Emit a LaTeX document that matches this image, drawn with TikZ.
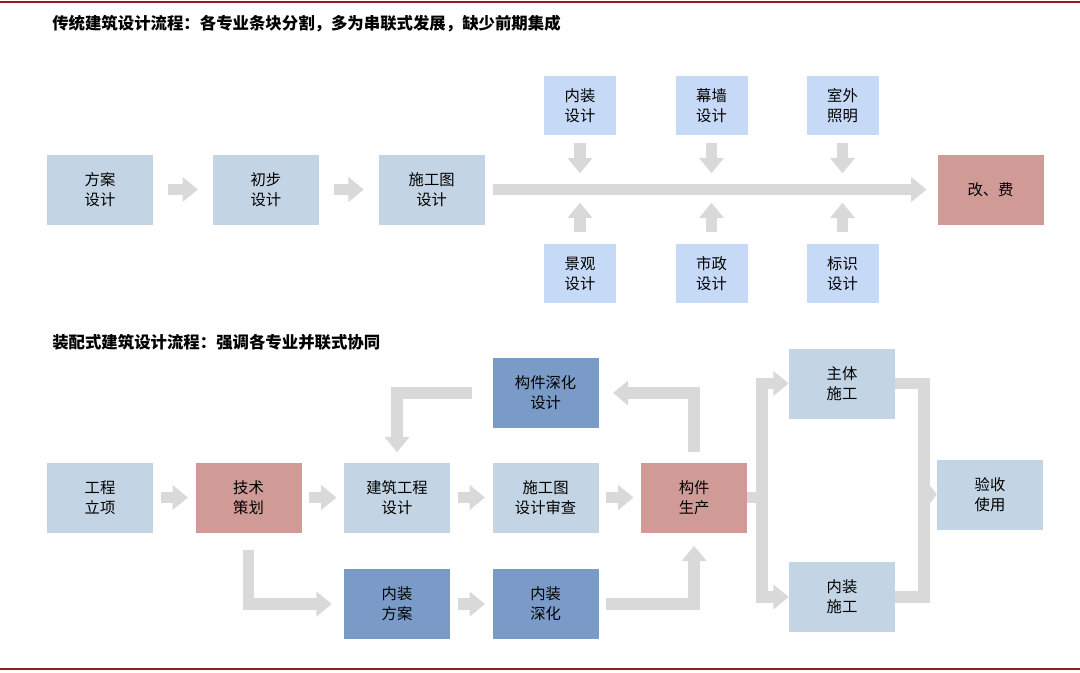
\documentclass[tikz,border=0pt]{standalone}
\usepackage{fontspec}
\setmainfont{Noto Sans CJK SC}
\usepackage{xcolor}
\usetikzlibrary{arrows.meta,positioning}

\definecolor{boxblue}{HTML}{C3D5E5}
\definecolor{subblue}{HTML}{C6D9F6}
\definecolor{deepblue}{HTML}{7A9BC8}
\definecolor{boxred}{HTML}{D09A97}
\definecolor{arrgray}{HTML}{D9D9D9}
\definecolor{rulered}{HTML}{8B1F1F}

\begin{document}
\begin{tikzpicture}[
  x=0.75pt, y=0.75pt,
  box/.style={fill=boxblue, minimum width=79.5pt, minimum height=52.5pt, inner sep=0pt, align=center, font=\fontsize{11.5}{15}\selectfont},
  sub/.style={box, fill=subblue, minimum width=54pt, minimum height=44.25pt},
  redbox/.style={box, fill=boxred},
  deep/.style={box, fill=deepblue},
  title/.style={anchor=west, inner sep=0pt, font=\fontsize{12.3}{14}\selectfont\bfseries},
  arr/.style={draw=arrgray, line width=8.75pt, -{Triangle[width=18pt, length=11.5pt]}},
  bar/.style={draw=arrgray, line width=8.75pt}
]
  \fill[white] (0,0) rectangle (1080,-672);
  \useasboundingbox (0,0) rectangle (1080,-672);
  \draw[rulered, line width=1.5pt] (0,-1.5) -- (1080,-1.5);
  \draw[rulered, line width=1.5pt] (0,-668.5) -- (1080,-668.5);

  % traditional flow
  \node[title] (t1) at (52,-24) {传统建筑设计流程：各专业条块分割，多为串联式发展，缺少前期集成};
  \node[box] (fa) at (100,-189.5) {方案\\设计};
  \node[box, right=44.5pt of fa] (cb) {初步\\设计};
  \node[box, right=44.5pt of cb] (sg) {施工图\\设计};
  \node[redbox] (gf) at (990.5,-189.5) {改、费};

  \node[sub] (nz1) at (580,-105.5) {内装\\设计};
  \node[sub] (mq) at (711.5,-105.5) {幕墙\\设计};
  \node[sub] (sw) at (842.5,-105.5) {室外\\照明};
  \node[sub] (jg) at (580,-273.5) {景观\\设计};
  \node[sub] (sz) at (711.5,-273.5) {市政\\设计};
  \node[sub] (bs) at (842.5,-273.5) {标识\\设计};

  \draw[arr] ([xshift=11pt]fa.east) -- ([xshift=-11pt]cb.west);
  \draw[arr] ([xshift=11pt]cb.east) -- ([xshift=-11pt]sg.west);
  \draw[arr] ([xshift=6pt]sg.east) -- ([xshift=-8pt]gf.west);
  \foreach \n in {nz1,mq,sw}
    \draw[arr] ([yshift=-6pt]\n.south) -- ([yshift=-28.5pt]\n.south);
  \foreach \n in {jg,sz,bs}
    \draw[arr] ([yshift=9pt]\n.north) -- ([yshift=30.75pt]\n.north);

  % prefabricated flow
  \node[title] (t2) at (52,-342) {装配式建筑设计流程：强调各专业并联式协同};
  \node[box] (gc) at (100,-497.5) {工程\\立项};
  \node[redbox, right=31.5pt of gc] (js) {技术\\策划};
  \node[box, right=31.5pt of js] (jz) {建筑工程\\设计};
  \node[box, right=31.5pt of jz] (sc) {施工图\\设计审查};
  \node[redbox, right=31.5pt of sc] (gs) {构件\\生产};
  \node[deep, above=25.5pt of sc] (sh) {构件深化\\设计};
  \node[deep, below=27pt of jz] (nf) {内装\\方案};
  \node[deep, below=27pt of sc] (nsh) {内装\\深化};
  \node[box] (zt) at (842,-383.5) {主体\\施工};
  \node[box] (nzs) at (842,-597) {内装\\施工};
  \node[box] (ys) at (990,-494.5) {验收\\使用};

  \draw[arr] ([xshift=5.5pt]gc.east) -- ([xshift=-5.5pt]js.west);
  \draw[arr] ([xshift=5.5pt]js.east) -- ([xshift=-5.5pt]jz.west);
  \draw[arr] ([xshift=5.5pt]jz.east) -- ([xshift=-5.5pt]sc.west);
  \draw[arr] ([xshift=5.5pt]sc.east) -- ([xshift=-5.5pt]gs.west);
  \draw[arr] ([xshift=5.5pt]nf.east) -- ([xshift=-5.5pt]nsh.west);
  \draw[arr] ([yshift=-12.75pt]js.south) |- ([xshift=-9pt]nf.west);
  \draw[arr] ([xshift=5pt]nsh.east) -| ([yshift=-9.75pt]gs.south);
  \draw[arr] ([yshift=7.5pt]gs.north) |- ([xshift=10.5pt]sh.east);
  \draw[arr] ([xshift=-15pt]sh.west) -| ([yshift=7.5pt]jz.north);
  \draw[arr] (gs.east) -- ++(11pt,0) |- (zt.west);
  \draw[arr] (gs.east) -- ++(11pt,0) |- (nzs.west);
  \draw[bar] (zt.east) -- ++(21.75pt,0) |- (nzs.east);
  \draw[arr, -{Triangle[width=18pt, length=7pt]}] ([xshift=-10pt]ys.west) -- (ys.west);
\end{tikzpicture}
\end{document}
